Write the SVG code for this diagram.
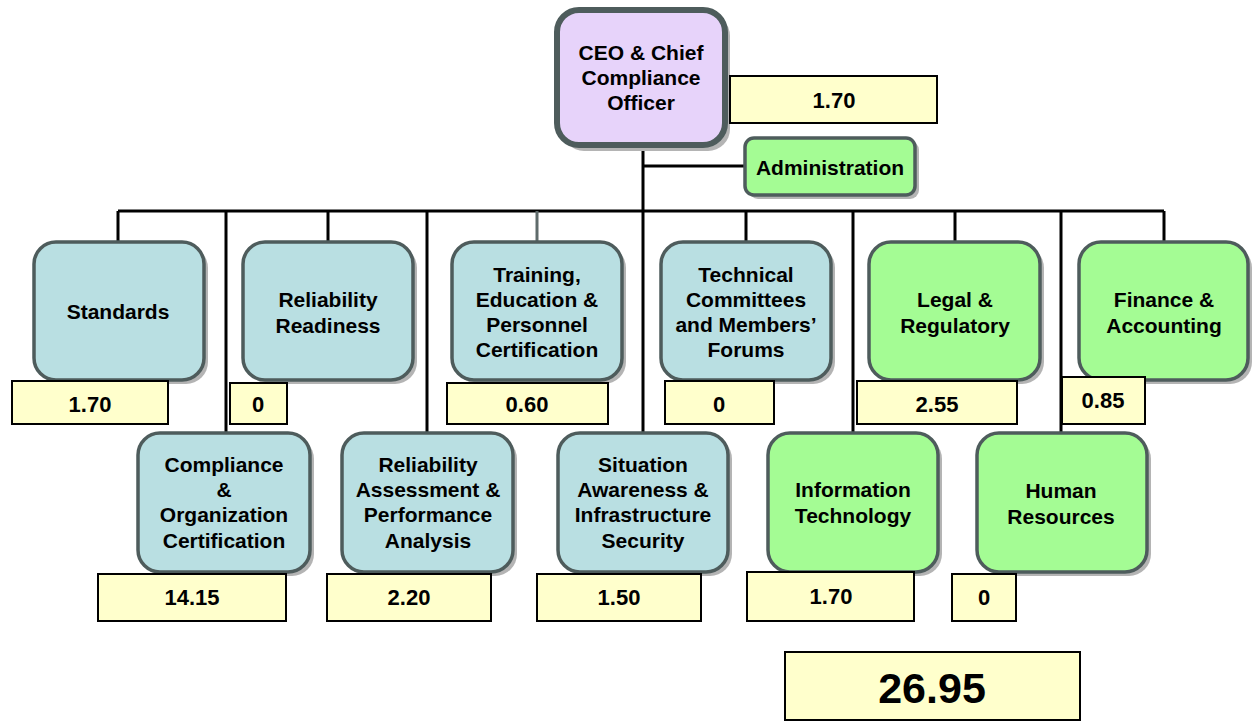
<svg xmlns="http://www.w3.org/2000/svg" width="1254" height="721" viewBox="0 0 1254 721">
<style>
.sh{fill:#b4b4b4}
.blue{fill:#b9dfe2;stroke:#4e5c5c;stroke-width:3.5}
.green{fill:#a4fc94;stroke:#4e5c5c;stroke-width:3.5}
.ceo{fill:#e7d3fa;stroke:#4e5c5c;stroke-width:6}
.val{fill:#ffffcc;stroke:#000;stroke-width:2}
.t{font-family:"Liberation Sans",Arial,sans-serif;font-weight:bold;font-size:21px;fill:#000;text-anchor:middle}
.v{font-family:"Liberation Sans",Arial,sans-serif;font-weight:bold;font-size:22px;fill:#000;text-anchor:middle}
.big{font-size:43px}
.ln{stroke:#000;stroke-width:3;fill:none}
</style>
<rect width="1254" height="721" fill="#fff"/>
<g id="connectors">
<path class="ln" d="M643 145V433M643 166H745M118 211H1164"/>
<path class="ln" d="M118 211V242M328 211V242M746 211V242M955 211V242M1164 211V242"/>
<path d="M537 211V242" stroke="#5f6b6b" stroke-width="3"/>
<path class="ln" d="M226 211V433M427 211V433M853 211V433M1061 211V433"/>
</g>
<g id="ceo">
<rect class="sh" x="562" y="14" width="168" height="137" rx="22"/>
<rect class="ceo" x="557" y="10" width="168" height="135" rx="22"/>
<text class="t"><tspan x="641" y="60">CEO &amp; Chief</tspan><tspan x="641" y="85">Compliance</tspan><tspan x="641" y="110">Officer</tspan></text>
</g>
<g id="ceo-value"><rect class="val" x="730" y="76" width="207" height="47"/><text class="v" x="834" y="108">1.70</text></g>
<g id="administration">
<rect class="sh" x="749" y="141" width="170" height="58" rx="9"/>
<rect class="green" x="745" y="138" width="170" height="57" rx="9"/>
<text class="t" x="830" y="175">Administration</text>
</g>
<g id="standards">
<rect class="sh" x="38" y="246" width="170" height="138" rx="22"/>
<rect class="blue" x="34" y="242" width="170" height="138" rx="22"/>
<text class="t" x="118" y="319">Standards</text>
</g>
<g id="standards-value"><rect class="val" x="12" y="381" width="156" height="43"/><text class="v" x="90" y="412">1.70</text></g>
<g id="reliability-readiness">
<rect class="sh" x="247" y="246" width="170" height="138" rx="22"/>
<rect class="blue" x="243" y="242" width="170" height="138" rx="22"/>
<text class="t"><tspan x="328" y="307">Reliability</tspan><tspan x="328" y="333">Readiness</tspan></text>
</g>
<g id="reliability-readiness-value"><rect class="val" x="230" y="383" width="57" height="41"/><text class="v" x="258" y="412">0</text></g>
<g id="training">
<rect class="sh" x="456" y="246" width="170" height="138" rx="22"/>
<rect class="blue" x="452" y="242" width="170" height="138" rx="22"/>
<text class="t"><tspan x="537" y="282">Training,</tspan><tspan x="537" y="307">Education &amp;</tspan><tspan x="537" y="332">Personnel</tspan><tspan x="537" y="357">Certification</tspan></text>
</g>
<g id="training-value"><rect class="val" x="447" y="383" width="161" height="41"/><text class="v" x="527" y="412">0.60</text></g>
<g id="technical">
<rect class="sh" x="665" y="246" width="170" height="138" rx="22"/>
<rect class="blue" x="661" y="242" width="170" height="138" rx="22"/>
<text class="t"><tspan x="746" y="282">Technical</tspan><tspan x="746" y="307">Committees</tspan><tspan x="746" y="332">and Members’</tspan><tspan x="746" y="357">Forums</tspan></text>
</g>
<g id="technical-value"><rect class="val" x="665" y="381" width="109" height="43"/><text class="v" x="719" y="412">0</text></g>
<g id="legal">
<rect class="sh" x="873" y="246" width="171" height="138" rx="22"/>
<rect class="green" x="869" y="242" width="171" height="138" rx="22"/>
<text class="t"><tspan x="955" y="307">Legal &amp;</tspan><tspan x="955" y="333">Regulatory</tspan></text>
</g>
<g id="legal-value"><rect class="val" x="857" y="381" width="160" height="43"/><text class="v" x="937" y="412">2.55</text></g>
<g id="finance">
<rect class="sh" x="1083" y="246" width="169" height="138" rx="22"/>
<rect class="green" x="1079" y="242" width="169" height="138" rx="22"/>
<text class="t"><tspan x="1164" y="307">Finance &amp;</tspan><tspan x="1164" y="333">Accounting</tspan></text>
</g>
<g id="finance-value"><rect class="val" x="1062" y="377" width="83" height="47"/><text class="v" x="1103" y="408">0.85</text></g>
<g id="compliance">
<rect class="sh" x="142" y="437" width="172" height="139" rx="22"/>
<rect class="blue" x="138" y="433" width="172" height="139" rx="22"/>
<text class="t"><tspan x="224" y="472">Compliance</tspan><tspan x="224" y="497">&amp;</tspan><tspan x="224" y="522">Organization</tspan><tspan x="224" y="548">Certification</tspan></text>
</g>
<g id="compliance-value"><rect class="val" x="98" y="574" width="188" height="47"/><text class="v" x="192" y="605">14.15</text></g>
<g id="reliability-assessment">
<rect class="sh" x="346" y="437" width="171" height="139" rx="22"/>
<rect class="blue" x="342" y="433" width="171" height="139" rx="22"/>
<text class="t"><tspan x="428" y="472">Reliability</tspan><tspan x="428" y="497">Assessment &amp;</tspan><tspan x="428" y="522">Performance</tspan><tspan x="428" y="548">Analysis</tspan></text>
</g>
<g id="reliability-assessment-value"><rect class="val" x="327" y="574" width="164" height="47"/><text class="v" x="409" y="605">2.20</text></g>
<g id="situation">
<rect class="sh" x="562" y="437" width="170" height="139" rx="22"/>
<rect class="blue" x="558" y="433" width="170" height="139" rx="22"/>
<text class="t"><tspan x="643" y="472">Situation</tspan><tspan x="643" y="497">Awareness &amp;</tspan><tspan x="643" y="522">Infrastructure</tspan><tspan x="643" y="548">Security</tspan></text>
</g>
<g id="situation-value"><rect class="val" x="537" y="574" width="164" height="47"/><text class="v" x="619" y="605">1.50</text></g>
<g id="information-technology">
<rect class="sh" x="772" y="437" width="170" height="139" rx="22"/>
<rect class="green" x="768" y="433" width="170" height="139" rx="22"/>
<text class="t"><tspan x="853" y="497">Information</tspan><tspan x="853" y="523">Technology</tspan></text>
</g>
<g id="information-technology-value"><rect class="val" x="747" y="572" width="167" height="49"/><text class="v" x="831" y="604">1.70</text></g>
<g id="human-resources">
<rect class="sh" x="981" y="437" width="170" height="139" rx="22"/>
<rect class="green" x="977" y="433" width="170" height="139" rx="22"/>
<text class="t"><tspan x="1061" y="498">Human</tspan><tspan x="1061" y="524">Resources</tspan></text>
</g>
<g id="human-resources-value"><rect class="val" x="952" y="574" width="64" height="47"/><text class="v" x="984" y="605">0</text></g>
<g id="total"><rect class="val" x="785" y="652" width="295" height="68"/><text class="v big" x="932" y="703">26.95</text></g>
</svg>
